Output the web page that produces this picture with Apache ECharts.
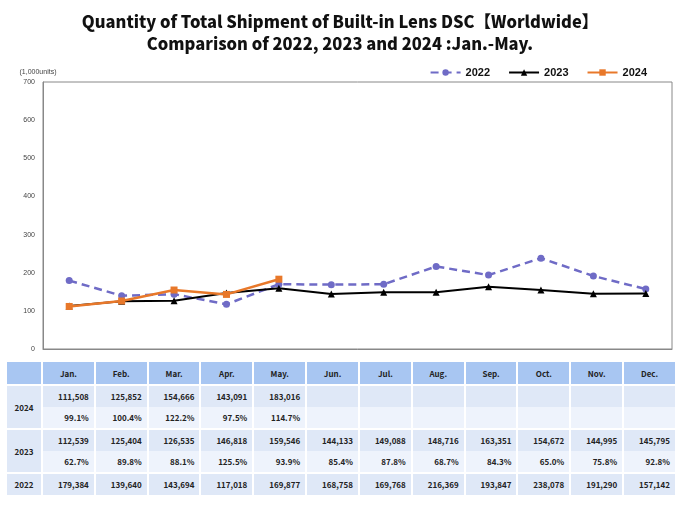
<!DOCTYPE html>
<html>
<head>
<meta charset="UTF-8">
<style>
body { margin:0; width:680px; height:506px; background:#fff; font-family:"Noto Sans CJK JP","Liberation Sans",sans-serif; }
#chart { position:absolute; left:0; top:0; width:680px; height:360px; }
#tbl { position:absolute; left:5px; top:362px; width:672px; border-collapse:separate; border-spacing:2px 0; font-size:8px; font-weight:bold; color:#222; }
#tbl td { height:21px; padding:0 5px 0 0; text-align:right; }
#tbl tr.h td { background:#a8c6f2; text-align:center; padding:0; height:22px; }
#tbl td.y { text-align:center; padding:0; width:34px; }
#tbl tr.a td { background:#dfe8f7; }
#tbl tr.b td { background:#eef3fc; }
#tbl tr.gap td { height:2px; background:#fff; }
</style>
</head>
<body>
<div id="chart"></div>
<table id="tbl"></table>
<script src="https://cdn.jsdelivr.net/npm/echarts@6/dist/echarts.min.js"></script>
<script>
var months = ['Jan.','Feb.','Mar.','Apr.','May.','Jun.','Jul.','Aug.','Sep.','Oct.','Nov.','Dec.'];
var v2022 = [179384,139640,143694,117018,169877,168758,169768,216369,193847,238078,191290,157142];
var v2023 = [112539,125404,126535,146818,159546,144133,149088,148716,163351,154672,144995,145795];
var v2024 = [111508,125852,154666,143091,183016];
var r2023 = ['62.7%','89.8%','88.1%','125.5%','93.9%','85.4%','87.8%','68.7%','84.3%','65.0%','75.8%','92.8%'];
var r2024 = ['99.1%','100.4%','122.2%','97.5%','114.7%'];

function k(a){ return a.map(function(v){ return v/1000; }); }
function fmt(v){ return v == null ? '' : v.toLocaleString('en-US'); }

var chart = echarts.init(document.getElementById('chart'));
chart.setOption({
    animation: false,
    title: {
        text: 'Quantity of Total Shipment of Built-in Lens DSC\u3010Worldwide\u3011\nComparison of 2022, 2023 and 2024 :Jan.-May.',
        left: 'center', top: 6,
        textStyle: { fontSize: 16.5, fontWeight: 900, color: '#111', lineHeight: 22, fontFamily: 'Noto Sans CJK JP' }
    },
    legend: {
        right: 28, top: 62, itemGap: 18, itemWidth: 30, itemHeight: 8,
        textStyle: { fontSize: 11, fontWeight: 'bold', color: '#111' },
        data: ['2022','2023','2024']
    },
    grid: { left: 43, right: 8, top: 82, bottom: 11, show: true, borderColor: '#888', borderWidth: 1 },
    xAxis: {
        type: 'category', data: months, boundaryGap: true,
        axisLabel: { show: false }, axisTick: { show: false },
        axisLine: { lineStyle: { color: '#888' } }
    },
    yAxis: {
        type: 'value', min: 0, max: 700, interval: 100,
        name: '(1,000units)', nameGap: 6,
        nameTextStyle: { fontSize: 7, color: '#444', align: 'center', padding: [0, 0, 0, -10] },
        axisLabel: { fontSize: 7, color: '#444' },
        axisLine: { show: true, lineStyle: { color: '#888' } },
        splitLine: { show: false }
    },
    series: [
        { name: '2022', type: 'line', data: k(v2022), symbol: 'circle', symbolSize: 7,
          lineStyle: { color: '#6f6bc6', width: 2.5, type: [8, 5] }, itemStyle: { color: '#6f6bc6' } },
        { name: '2023', type: 'line', data: k(v2023), symbol: 'triangle', symbolSize: 7,
          lineStyle: { color: '#000', width: 2 }, itemStyle: { color: '#000' } },
        { name: '2024', type: 'line', data: k(v2024), symbol: 'rect', symbolSize: 7,
          lineStyle: { color: '#e8782a', width: 2.5 }, itemStyle: { color: '#e8782a' } }
    ]
});

// table under the chart
var html = '<tr class="h"><td class="y"></td>' + months.map(function(m){ return '<td>' + m + '</td>'; }).join('') + '</tr>';
html += '<tr class="gap"><td colspan="13"></td></tr>';
function row(cls, label, span, vals) {
    var s = '<tr class="' + cls + '">';
    if (label) s += '<td class="y lab" rowspan="' + span + '">' + label + '</td>';
    for (var i = 0; i < 12; i++) s += '<td>' + (vals[i] == null ? '' : vals[i]) + '</td>';
    return s + '</tr>';
}
html += row('a', '2024', 2, v2024.map(fmt));
html += row('b', '', 0, r2024);
html += '<tr class="gap"><td colspan="13"></td></tr>';
html += row('a', '2023', 2, v2023.map(fmt));
html += row('b', '', 0, r2023);
html += '<tr class="gap"><td colspan="13"></td></tr>';
html += row('a', '2022', 1, v2022.map(fmt));
document.getElementById('tbl').innerHTML = html;
document.querySelectorAll('#tbl td.lab').forEach(function(td){ td.style.background = '#dfe8f7'; });
</script>
</body>
</html>
